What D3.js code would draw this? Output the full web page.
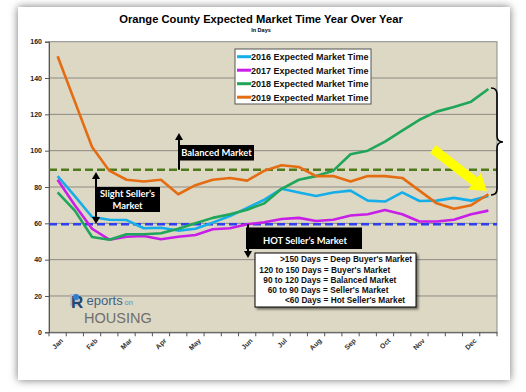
<!DOCTYPE html>
<html><head><meta charset="utf-8">
<script src="https://cdn.jsdelivr.net/npm/d3@7"></script>
<style>html,body{margin:0;padding:0;background:#fff;}svg{display:block;}</style>
</head><body>
<script>
// ---- data ----
const monthLabels = ["Jan","","Feb","","Mar","","Apr","","May","","","Jun","","Jul","","Aug","","Sep","","Oct","","Nov","","","Dec",""];
const periods = d3.range(monthLabels.length);
const yTicks = [0,20,40,60,80,100,120,140,160];
const seriesNames = ["2016 Expected Market Time","2017 Expected Market Time","2018 Expected Market Time","2019 Expected Market Time"];
const s2016 = [86,75,63.5,62,61.8,57.3,57.6,56,57,60.4,64,68.5,73,79,77,75,77,78,72.5,72,77,72.3,72.5,74,72.5,75];
const s2017 = [84,70,57,51,52.6,53,51.2,52.6,53.6,56.7,57.3,59.5,60.6,62.4,63,61.3,62,64.3,65,67.3,65,61,61,62,65,67];
const s2018 = [77,67,52.5,51,54,54,54.5,57,60,63,65,67.5,71,79,84,86,89,98,100,105,111,117,121.5,124,127,134];
const s2019 = [152,127,102,89,84,83,84,76,81,84,85,83.5,89,92,91,86,86,83,86,86,85,78,71,68,70,76];
const balancedLevel = 89.5;
const hotLevel = 59.5;
const definitions = [">150 Days = Deep Buyer's Market","120 to 150 Days = Buyer's Market","90 to 120 Days = Balanced Market","60 to 90 Days = Seller's Market","<60 Days = Hot Seller's Market"];
const colors = ["#16aee8","#c81fe8","#1fa65a","#e46c12"];

const W=526,H=392;
const svg=d3.select("body").append("svg").attr("width",W).attr("height",H);
const defs=svg.append("defs");
const f=defs.append("filter").attr("id","sh").attr("x","-10%").attr("y","-10%").attr("width","120%").attr("height","120%");
f.append("feDropShadow").attr("dx",0).attr("dy",0).attr("stdDeviation",4).attr("flood-color","#000").attr("flood-opacity",0.55);
const f2=defs.append("filter").attr("id","sh2").attr("x","-10%").attr("y","-10%").attr("width","130%").attr("height","130%");
f2.append("feDropShadow").attr("dx",2).attr("dy",2).attr("stdDeviation",1).attr("flood-color","#000").attr("flood-opacity",0.5);

// card
svg.append("rect").attr("x",18).attr("y",7).attr("width",492).attr("height",373).attr("fill","#fff").attr("filter","url(#sh)");

const L=49,R=497,T=41.7,B=332.3;
const x=d3.scaleBand().domain(periods).range([L,R]);
const y=d3.scaleLinear().domain([0,160]).range([B,T]);
const cx=i=>x(i)+x.bandwidth()/2;

// plot bg
svg.append("rect").attr("x",L).attr("y",T).attr("width",R-L).attr("height",B-T).attr("fill","#ddd8c3").attr("stroke","#8a8a8a").attr("stroke-width",1);
// gridlines
svg.append("g").selectAll("line").data(yTicks.filter(v=>v>0&&v<160)).join("line")
  .attr("x1",L).attr("x2",R).attr("y1",d=>y(d)).attr("y2",d=>y(d)).attr("stroke","#8c8a84").attr("stroke-width",1);

// y axis
const ya=svg.append("g").attr("transform",`translate(${L},0)`).call(d3.axisLeft(y).tickValues(yTicks).tickSize(4).tickPadding(3));
ya.select(".domain").attr("stroke","#555");
ya.selectAll(".tick line").attr("stroke","#555");
ya.selectAll("text").attr("font-family","Liberation Sans, Arial").attr("font-weight","bold").attr("font-size",7).attr("fill","#222");

// x axis
const xa=svg.append("g").attr("transform",`translate(0,${B})`).call(d3.axisBottom(x).tickSize(0).tickFormat(i=>monthLabels[i]));
xa.select(".domain").attr("stroke","#555");
xa.selectAll("text").attr("font-family","Liberation Sans, Arial").attr("font-weight","bold").attr("font-size",7).attr("fill","#333")
  .attr("text-anchor","end").attr("transform","translate(2,5) rotate(-45)").attr("dy","0.35em");
svg.append("g").selectAll("line").data(d3.range(periods.length+1)).join("line")
  .attr("x1",i=>L+i*x.step()).attr("x2",i=>L+i*x.step()).attr("y1",B).attr("y2",B+4).attr("stroke","#555");

// reference dashed lines
svg.append("line").attr("x1",L).attr("x2",R).attr("y1",y(balancedLevel)).attr("y2",y(balancedLevel))
  .attr("stroke","#4f7a1c").attr("stroke-width",2.5).attr("stroke-dasharray","8,4");
svg.append("line").attr("x1",L).attr("x2",R).attr("y1",y(hotLevel)).attr("y2",y(hotLevel))
  .attr("stroke","#2f3ff2").attr("stroke-width",2.5).attr("stroke-dasharray","8,4");

// series
const line=d3.line().x((d,i)=>cx(i)).y(d=>y(d));
[s2016,s2017,s2018,s2019].forEach((s,k)=>{
  svg.append("path").datum(s).attr("d",line).attr("fill","none").attr("stroke",colors[k]).attr("stroke-width",2.6).attr("stroke-linejoin","round");
});

// legend
const lg=svg.append("g");
lg.append("rect").attr("x",235).attr("y",49).attr("width",136).attr("height",55).attr("fill","#fff").attr("stroke","#555");
seriesNames.forEach((n,k)=>{
  const yy=56.7+k*13.5;
  lg.append("line").attr("x1",237).attr("x2",251).attr("y1",yy).attr("y2",yy).attr("stroke",colors[k]).attr("stroke-width",3);
  lg.append("text").attr("x",251).attr("y",yy+3.3).text(n).attr("font-family","Liberation Sans, Arial").attr("font-weight","bold").attr("font-size",9).attr("fill","#111");
});

// title
svg.append("text").attr("x",261).attr("y",23).attr("text-anchor","middle").text("Orange County Expected Market Time Year Over Year")
  .attr("font-family","Liberation Sans, Arial").attr("font-weight","bold").attr("font-size",11.2).attr("fill","#000");
svg.append("text").attr("x",261).attr("y",32).attr("text-anchor","middle").text("In Days")
  .attr("font-family","Liberation Sans, Arial").attr("font-weight","bold").attr("font-size",5.5).attr("fill","#000");

// arrow helpers
function arrowHead(g,xx,yy,dir){ // dir -1 up, 1 down
  g.append("path").attr("d",`M${xx-4},${yy-dir*7} L${xx+4},${yy-dir*7} L${xx},${yy} Z`).attr("fill","#000");
}
const boxFont="Lato, Open Sans, sans-serif";
// Balanced market
const bm=svg.append("g");
bm.append("line").attr("x1",179).attr("x2",179).attr("y1",y(balancedLevel)).attr("y2",139).attr("stroke","#000").attr("stroke-width",2);
arrowHead(bm,179,133,-1);
bm.append("rect").attr("x",179).attr("y",145).attr("width",75).attr("height",15.5).attr("fill","#000");
bm.append("text").attr("x",216.5).attr("y",156).attr("text-anchor","middle").text("Balanced Market").attr("font-family",boxFont).attr("font-weight","bold").attr("font-size",9.4).attr("fill","#fff");
// Slight seller's
const ss=svg.append("g");
ss.append("rect").attr("x",95).attr("y",187).attr("width",65).attr("height",25).attr("fill","#000");
ss.append("line").attr("x1",96).attr("x2",96).attr("y1",178).attr("y2",218).attr("stroke","#000").attr("stroke-width",2);
arrowHead(ss,96,172,-1);
arrowHead(ss,96,224,1);
ss.append("text").attr("x",127.5).attr("y",197).attr("text-anchor","middle").text("Slight Seller\u2019s").attr("font-family",boxFont).attr("font-weight","bold").attr("font-size",9.4).attr("fill","#fff");
ss.append("text").attr("x",127.5).attr("y",208.5).attr("text-anchor","middle").text("Market").attr("font-family",boxFont).attr("font-weight","bold").attr("font-size",9.4).attr("fill","#fff");
// HOT
const hm=svg.append("g");
hm.append("rect").attr("x",246).attr("y",227.5).attr("width",116).attr("height",21.5).attr("fill","#000");
hm.append("line").attr("x1",248).attr("x2",248).attr("y1",y(hotLevel)).attr("y2",252).attr("stroke","#000").attr("stroke-width",2);
arrowHead(hm,248,258,1);
hm.append("text").attr("x",305).attr("y",244).attr("text-anchor","middle").text("HOT Seller\u2019s Market").attr("font-family",boxFont).attr("font-weight","bold").attr("font-size",9.4).attr("fill","#fff");

// definitions box
const db=svg.append("g");
db.append("rect").attr("x",255).attr("y",253).attr("width",161).attr("height",54).attr("fill","#fff").attr("stroke","#000").attr("stroke-width",1).attr("filter","url(#sh2)");
const defX=[280,259.3,263.3,267.7,285];
definitions.forEach((t,k)=>{
  db.append("text").attr("x",defX[k]).attr("y",262.3+k*10.2).text(t).attr("font-family","Liberation Sans, Arial").attr("font-weight","bold").attr("font-size",8.3).attr("fill","#111");
});

// yellow arrow
(function(){
  const x0=433,y0=149,x1=487,y1=191;
  const dx=x1-x0,dy=y1-y0,len=Math.hypot(dx,dy),ux=dx/len,uy=dy/len,nx=-uy,ny=ux;
  const hw=4.8,hh=10.5,hl=16;
  const bx=x1-ux*hl,by=y1-uy*hl;
  const p=[[x0+nx*hw,y0+ny*hw],[bx+nx*hw,by+ny*hw],[bx+nx*hh,by+ny*hh],[x1,y1],[bx-nx*hh,by-ny*hh],[bx-nx*hw,by-ny*hw],[x0-nx*hw,y0-ny*hw]];
  svg.append("path").attr("d","M"+p.map(q=>q.join(",")).join("L")+"Z").attr("fill","#ffff00");
})();

// brace
svg.append("path").attr("d","M491,88 Q497,88 497,94 L497,136 Q497,142 503,142 Q497,142 497,148 L497,189 Q497,195 491,195")
  .attr("fill","none").attr("stroke","#000").attr("stroke-width",1.6);

// logo
const lo=svg.append("g");
lo.append("rect").attr("x",70).attr("y",294).attr("width",9).attr("height",12).attr("fill","#b9bec6");
lo.append("text").attr("x",71).attr("y",308).text("R").attr("font-family","Liberation Sans, Arial").attr("font-weight","bold").attr("font-size",17).attr("fill","#23466e");
lo.append("circle").attr("cx",76).attr("cy",297).attr("r",3).attr("fill","#2f7fd0");
lo.append("text").attr("x",86.5).attr("y",304.5).text("eports").attr("font-family","Liberation Sans, Arial").attr("font-size",13).attr("fill","#3d5f86");
lo.append("text").attr("x",124.5).attr("y",304.5).text("on").attr("font-family","Liberation Sans, Arial").attr("font-size",7.5).attr("fill","#5b8cc4");
lo.append("text").attr("x",84).attr("y",322.5).text("HOUSING").attr("font-family","Liberation Sans, Arial").attr("font-size",14.5).attr("fill","#6e6e6e");
</script>
</body></html>
